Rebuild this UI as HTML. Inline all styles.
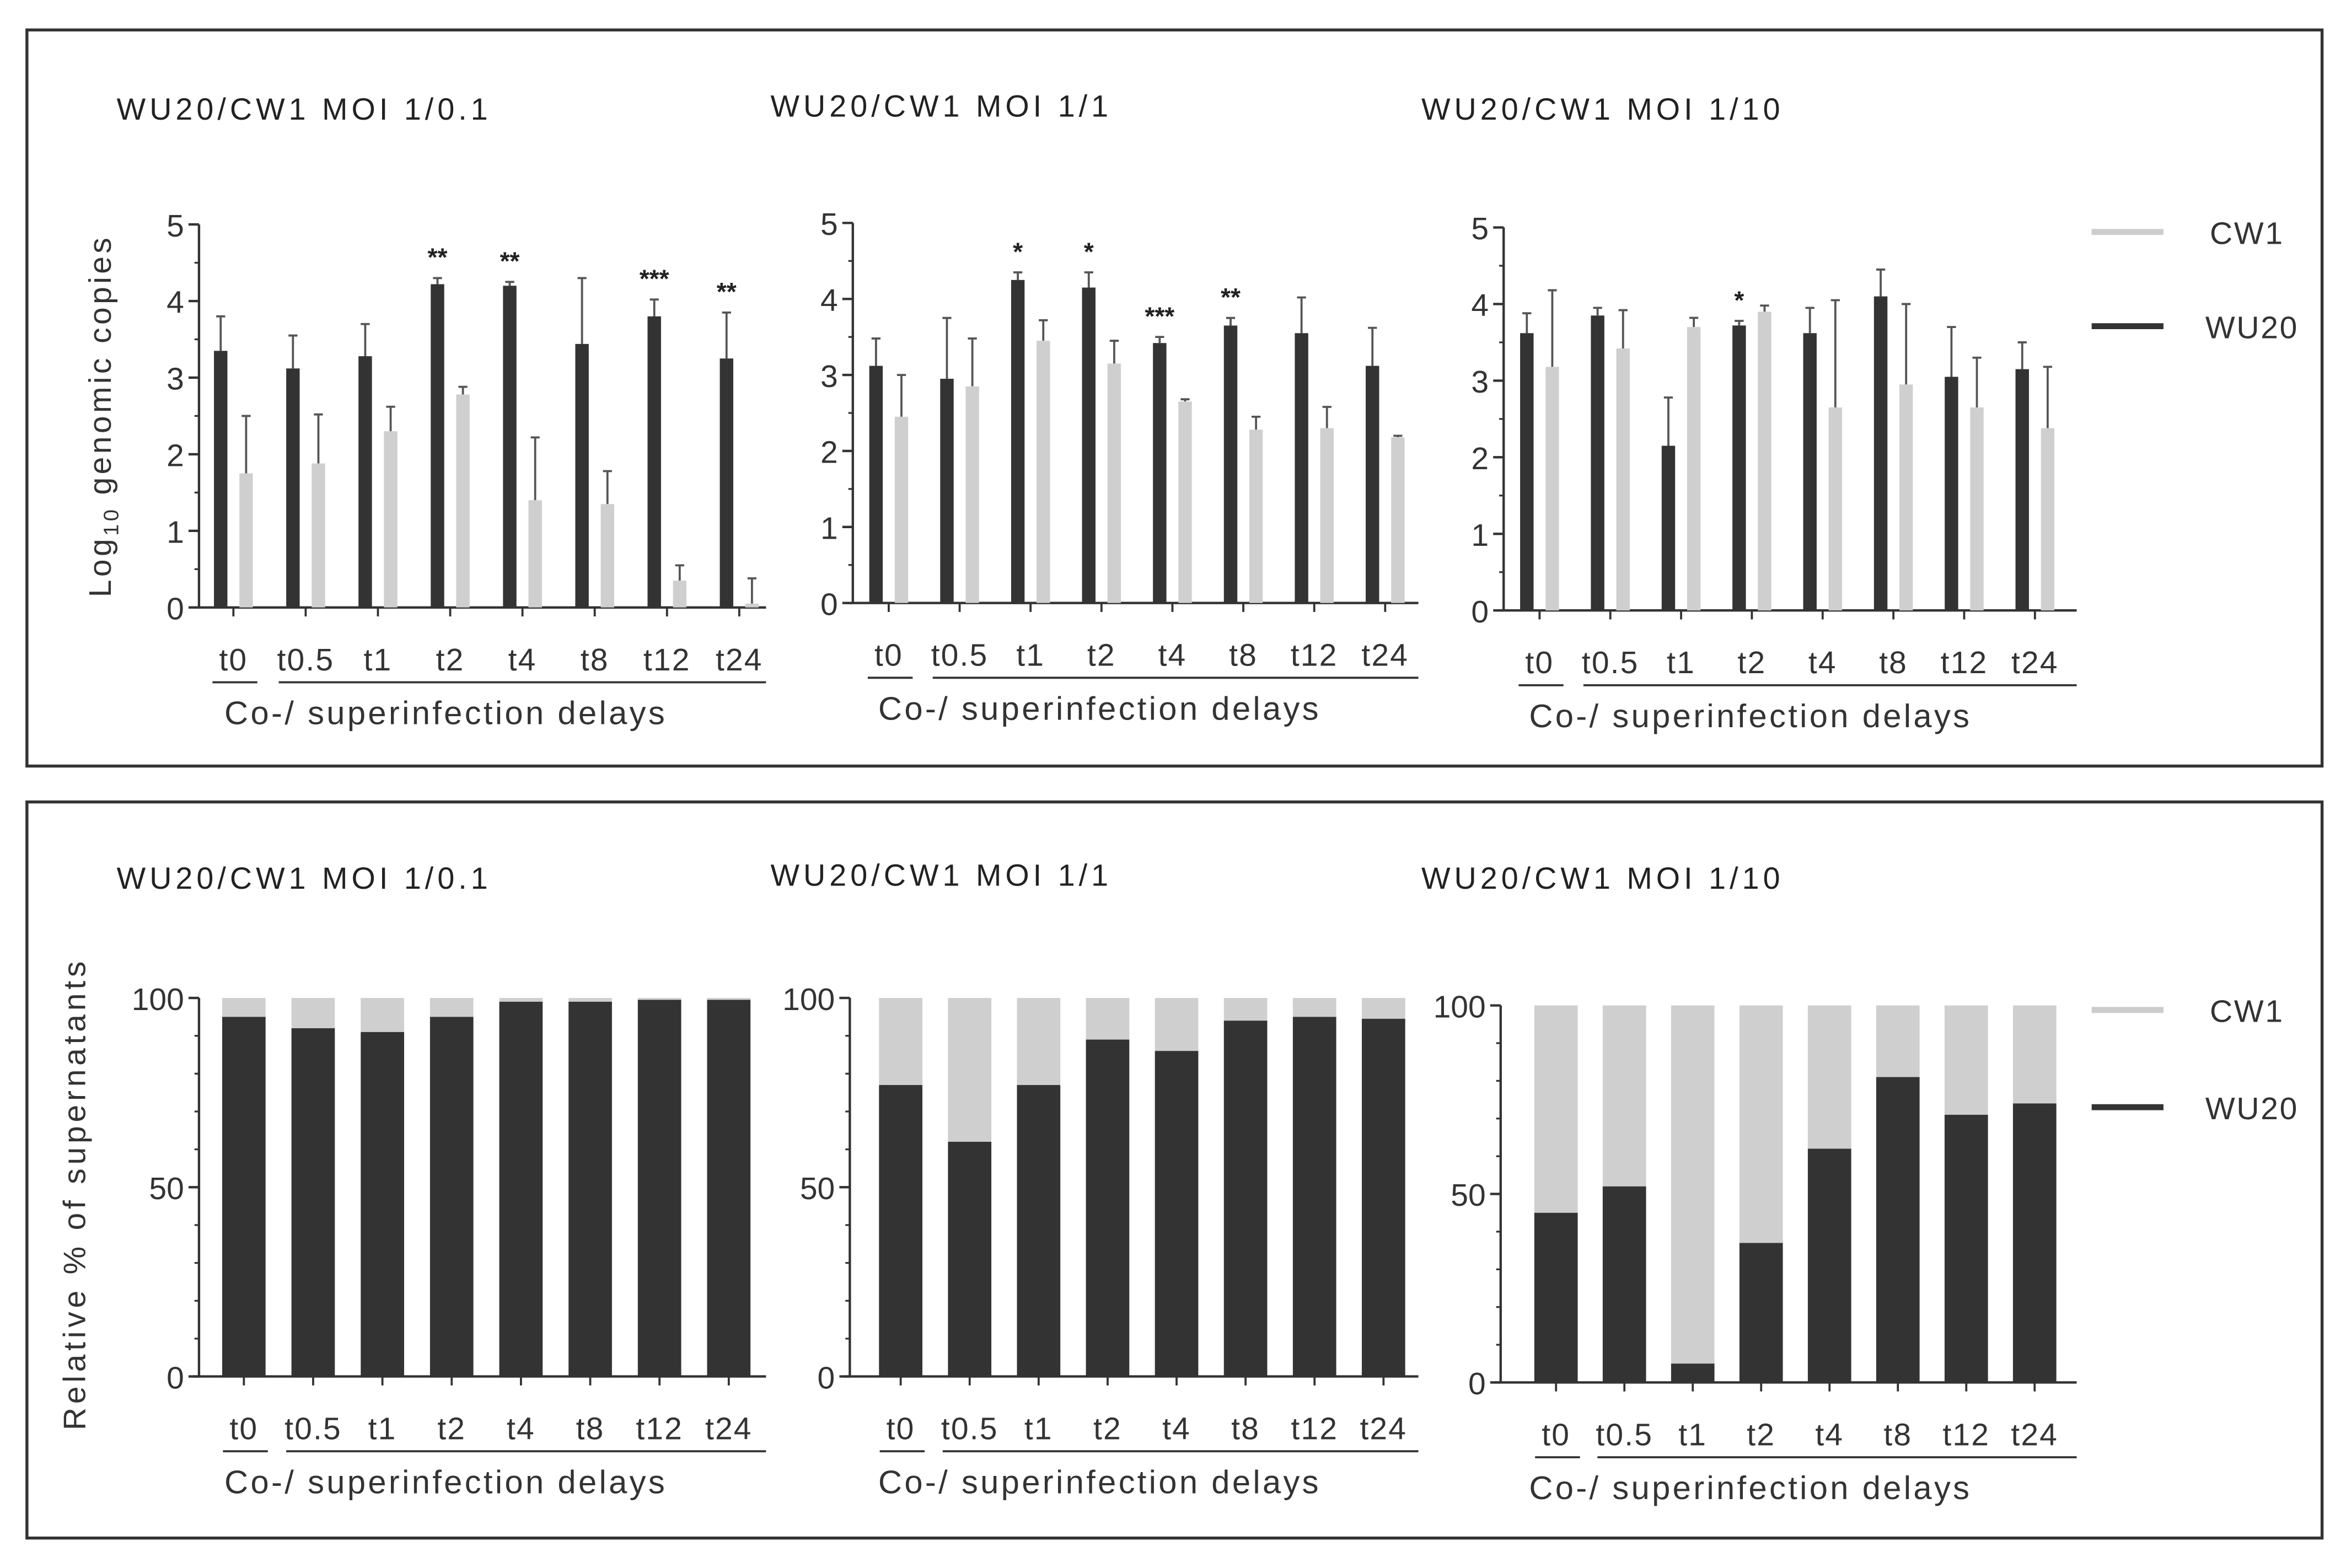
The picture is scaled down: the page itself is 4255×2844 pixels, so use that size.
<!DOCTYPE html>
<html><head><meta charset="utf-8"><style>
html,body{margin:0;padding:0;background:#fff;}
svg{display:block;font-family:"Liberation Sans",Arial,sans-serif;}
</style></head><body>
<svg id="fig" width="4255" height="2844" viewBox="0 0 1568 1048" xmlns="http://www.w3.org/2000/svg">
<rect x="18" y="20" width="1534" height="492" fill="none" stroke="#333" stroke-width="2"/>
<rect x="18" y="536" width="1534" height="492" fill="none" stroke="#333" stroke-width="2"/>
<g font-size="20.5" letter-spacing="2.6" fill="#222">
<text x="78" y="80">WU20/CW1 MOI 1/0.1</text>
<text x="515" y="78">WU20/CW1 MOI 1/1</text>
<text x="950" y="80">WU20/CW1 MOI 1/10</text>
<text x="78" y="594">WU20/CW1 MOI 1/0.1</text>
<text x="515" y="592">WU20/CW1 MOI 1/1</text>
<text x="950" y="594">WU20/CW1 MOI 1/10</text>
</g>
<text transform="translate(74,278) rotate(-90)" text-anchor="middle" font-size="21" letter-spacing="2" fill="#333">Log<tspan font-size="14" dy="5">10</tspan><tspan dy="-5"> genomic copies</tspan></text>
<text transform="translate(57,798) rotate(-90)" text-anchor="middle" font-size="21" letter-spacing="2.5" fill="#333">Relative % of supernatants</text>
<g>
<line x1="1398" y1="155" x2="1446" y2="155" stroke="#ccc" stroke-width="4"/>
<text x="1477" y="163" font-size="21" letter-spacing="1" fill="#333">CW1</text>
<line x1="1398" y1="218" x2="1446" y2="218" stroke="#333" stroke-width="4"/>
<text x="1474" y="226" font-size="21" letter-spacing="1" fill="#333">WU20</text>
</g>
<g>
<line x1="1398" y1="675" x2="1446" y2="675" stroke="#ccc" stroke-width="4"/>
<text x="1477" y="683" font-size="21" letter-spacing="1" fill="#333">CW1</text>
<line x1="1398" y1="740" x2="1446" y2="740" stroke="#333" stroke-width="4"/>
<text x="1474" y="748" font-size="21" letter-spacing="1" fill="#333">WU20</text>
</g>
</svg>
<script>
const categories = ["t0","t0.5","t1","t2","t4","t8","t12","t24"];
// Top row: log10 genomic copies (mean, upper error)
const wu20LogA = [3.35,3.12,3.28,4.22,4.2,3.44,3.8,3.25];
const wu20ErrA = [3.8,3.55,3.7,4.3,4.25,4.3,4.02,3.85];
const cw1LogA  = [1.75,1.88,2.3,2.78,1.4,1.35,0.35,0.05];
const cw1ErrA  = [2.5,2.52,2.62,2.88,2.22,1.78,0.55,0.38];
const starsA   = ["","","","**","**","","***","**"];
const wu20LogB = [3.12,2.95,4.25,4.15,3.42,3.65,3.55,3.12];
const wu20ErrB = [3.48,3.75,4.35,4.35,3.5,3.75,4.02,3.62];
const cw1LogB  = [2.45,2.85,3.45,3.15,2.65,2.28,2.3,2.18];
const cw1ErrB  = [3.0,3.48,3.72,3.45,2.68,2.45,2.58,2.2];
const starsB   = ["","","*","*","***","**","",""];
const wu20LogC = [3.62,3.85,2.15,3.72,3.62,4.1,3.05,3.15];
const wu20ErrC = [3.88,3.95,2.78,3.78,3.95,4.45,3.7,3.5];
const cw1LogC  = [3.18,3.42,3.7,3.9,2.65,2.95,2.65,2.38];
const cw1ErrC  = [4.18,3.92,3.82,3.98,4.05,4.0,3.3,3.18];
const starsC   = ["","","","*","","","",""];
// Bottom row: relative % WU20 (CW1 fills to 100)
const wu20PctA = [95,92,91,95,99,99,99.5,99.5];
const wu20PctB = [77,62,77,89,86,94,95,94.5];
const wu20PctC = [45,52,5,37,62,81,71,74];
const topTicks = [0,1,2,3,4,5];
const pctTicks = [0,50,100];

const NS="http://www.w3.org/2000/svg";
const svg=document.getElementById('fig');
function mk(tag,attrs,parent){const e=document.createElementNS(NS,tag);for(const k in attrs)e.setAttribute(k,attrs[k]);(parent||svg).appendChild(e);return e;}

function axes(g,P,ticks,max,minorStep){
  const ys=v=>P.y0-(P.y0-P.yMax)*v/max;
  const ax=mk('line',{x1:P.ax,y1:ys(max),x2:P.ax,y2:P.y0,stroke:'#333','stroke-width':1.6},g);
  
  
  const xa=mk('line',{x1:P.ax-4,y1:P.y0,x2:P.xEnd,y2:P.y0,stroke:'#333','stroke-width':1.6},g);
  
  
  for(let v=0;v<=max+1e-9;v+=minorStep){
    const l=mk('line',{x1:P.ax-3,y1:ys(v),x2:P.ax,y2:ys(v),stroke:'#333','stroke-width':1.2},g);
    
    
  }
  ticks.forEach(v=>{
    const l=mk('line',{x1:P.ax-7,y1:ys(v),x2:P.ax,y2:ys(v),stroke:'#333','stroke-width':1.6},g);
    
    
    const t=mk('text',{x:P.ax-10,y:ys(v)+8,'text-anchor':'end','font-size':21,fill:'#333'},g);
    t.textContent=v;
    
    
  });
  categories.forEach((c,i)=>{
    const x=P.x0+i*P.step;
    const l=mk('line',{x1:x,y1:P.y0,x2:x,y2:P.y0+6,stroke:'#333','stroke-width':1.4},g);
    
    
    const t=mk('text',{x:x,y:P.y0+42,'text-anchor':'middle','font-size':21,'letter-spacing':0.8,fill:'#333'},g);
    t.textContent=c;
    
    
  });
  const uy=P.y0+50;
  const u1=mk('line',{x1:P.x0-14,y1:uy,x2:P.x0+16,y2:uy,stroke:'#333','stroke-width':1.4},g);
  
  
  const u2=mk('line',{x1:P.x0+P.step-18,y1:uy,x2:P.xEnd,y2:uy,stroke:'#333','stroke-width':1.4},g);
  
  
  const t=mk('text',{x:P.tx,y:uy+28,'font-size':22,'letter-spacing':1.6,fill:'#333'},g);
  t.textContent='Co-/ superinfection delays';
  
  
  return ys;
}

function topPanel(name,P,wu,wuE,cw,cwE,st){
  const g=mk('g',{});
  
  
  const ys=axes(g,P,topTicks,5,0.5);
  const bw=9,off=8.5;
  categories.forEach((c,i)=>{
    const x=P.x0+i*P.step;
    [[wu[i],wuE[i],-off,'#333','bar-wu20-'+c],[cw[i],cwE[i],off,'#cfcfcf','bar-cw1-'+c]].forEach(([v,e,o,col,nm])=>{
      const cx=x+o;
      const el=mk('line',{x1:cx,y1:ys(v),x2:cx,y2:ys(e),stroke:'#555','stroke-width':1.4},g);
      
      
      const cap=mk('line',{x1:cx-3,y1:ys(e),x2:cx+3,y2:ys(e),stroke:'#555','stroke-width':1.4},g);
      
      
      const r=mk('rect',{x:cx-bw/2,y:ys(v),width:bw,height:ys(0)-ys(v),fill:col},g);
      
      
    });
    if(st[i]){
      const t=mk('text',{x:x-off,y:ys(wuE[i])-8,'text-anchor':'middle','font-size':17,'font-weight':'bold',fill:'#222'},g);
      t.textContent=st[i];
      
      
    }
  });
}

function bottomPanel(name,P,wu){
  const g=mk('g',{});
  
  
  const ys=axes(g,P,pctTicks,100,10);
  const bw=29;
  categories.forEach((c,i)=>{
    const x=P.x0+i*P.step;
    const r1=mk('rect',{x:x-bw/2,y:ys(100),width:bw,height:ys(wu[i])-ys(100),fill:'#cfcfcf'},g);
    
    
    const r2=mk('rect',{x:x-bw/2,y:ys(wu[i]),width:bw,height:ys(0)-ys(wu[i]),fill:'#333'},g);
    
    
  });
}

topPanel('chart-top-moi-1-0.1',{ax:133,y0:406,yMax:150,x0:156,step:48.3,xEnd:512,tx:150},wu20LogA,wu20ErrA,cw1LogA,cw1ErrA,starsA);
topPanel('chart-top-moi-1-1',{ax:570,y0:403,yMax:149,x0:594,step:47.4,xEnd:948,tx:587},wu20LogB,wu20ErrB,cw1LogB,cw1ErrB,starsB);
topPanel('chart-top-moi-1-10',{ax:1005,y0:408,yMax:152,x0:1029,step:47.3,xEnd:1388,tx:1022},wu20LogC,wu20ErrC,cw1LogC,cw1ErrC,starsC);
bottomPanel('chart-bottom-moi-1-0.1',{ax:133,y0:920,yMax:667,x0:163,step:46.3,xEnd:512,tx:150},wu20PctA);
bottomPanel('chart-bottom-moi-1-1',{ax:568,y0:920,yMax:667,x0:602,step:46.1,xEnd:948,tx:587},wu20PctB);
bottomPanel('chart-bottom-moi-1-10',{ax:1003,y0:924,yMax:672,x0:1040,step:45.7,xEnd:1388,tx:1022},wu20PctC);
</script>
</body></html>
